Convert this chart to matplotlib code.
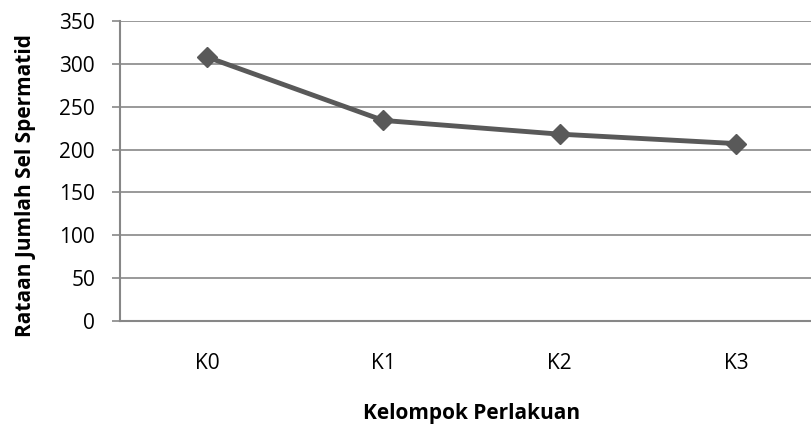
import matplotlib
matplotlib.use('Agg')
import matplotlib.pyplot as plt

# data
kelompok = ['K0', 'K1', 'K2', 'K3']
rataan = [308, 234, 218, 207]
yticks = [0, 50, 100, 150, 200, 250, 300, 350]

plt.rcParams['font.family'] = ['Open Sans', 'DejaVu Sans']

fig = plt.figure(figsize=(8.11, 4.25), dpi=100)
ax = fig.add_axes([120 / 811, 1 - 321 / 425, 1 - 120 / 811, 300 / 425])

x = list(range(len(kelompok)))
ax.plot(x, rataan, color='#595959', linewidth=3.5, marker='D', markersize=10,
        markerfacecolor='#595959', markeredgecolor='#595959', zorder=3)

ax.set_xlim(-0.493, 3.426)
ax.set_ylim(0, 350)
ax.set_yticks(yticks)
ax.set_xticks(x)
ax.set_xticklabels(kelompok)

ax.grid(axis='y', color='#878787', linewidth=1.2)
ax.set_axisbelow(True)
for s in ['top', 'right']:
    ax.spines[s].set_visible(False)
for s in ['left', 'bottom']:
    ax.spines[s].set_color('#878787')
    ax.spines[s].set_linewidth(1.5)

ax.tick_params(axis='y', length=6, width=1.2, color='#878787', labelsize=15, pad=12)
ax.tick_params(axis='x', length=0, labelsize=15, pad=23)

ax.set_ylabel('Rataan Jumlah Sel Spermatid', fontsize=15, fontweight='bold')
ax.set_xlabel('Kelompok Perlakuan', fontsize=15, fontweight='bold')
ax.xaxis.set_label_coords(0.509, -0.273)
ax.yaxis.set_label_coords(-0.1216, 0.45)

fig.savefig('out.png', dpi=100)
